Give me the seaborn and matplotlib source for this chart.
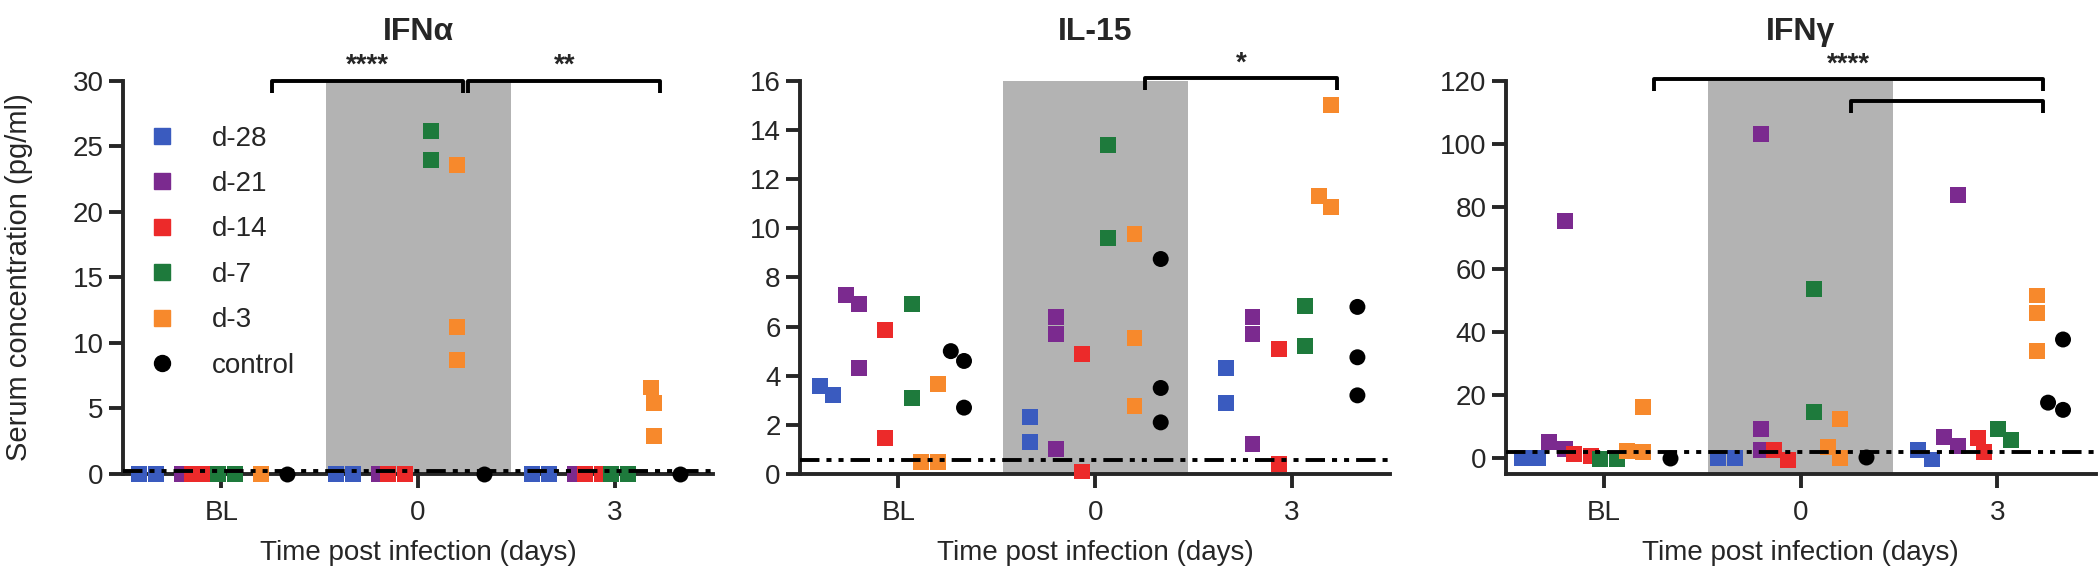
import warnings
import numpy as np
import pandas as pd
import seaborn as sns
import matplotlib.pyplot as plt
from matplotlib.lines import Line2D

warnings.filterwarnings('ignore')

groups = ['d-28', 'd-21', 'd-14', 'd-7', 'd-3', 'control']
times = ['BL', '0', '3']
colors = ['#3a5bbf', '#7b2a8f', '#ec2a2a', '#1e7a3c', '#f7892c', '#000000']

# values per group, listed as [BL, day 0, day 3]
ifna_d28 = [[0, 0], [0, 0], [0, 0]]
ifna_d21 = [[0], [0], [0]]
ifna_d14 = [[0, 0], [0, 0], [0, 0]]
ifna_d7 = [[0, 0], [26.2, 24.0], [0, 0]]
ifna_d3 = [[0], [23.6, 11.2, 8.7], [6.6, 5.4, 2.9]]
ifna_ctrl = [[0], [0], [0]]

il15_d28 = [[3.2, 3.6], [1.3, 2.3], [4.3, 2.9]]
il15_d21 = [[7.3, 6.9, 4.3], [6.4, 5.7, 1.0], [6.4, 5.7, 1.2]]
il15_d14 = [[5.85, 1.45], [4.9, 0.1], [5.1, 0.4]]
il15_d7 = [[6.9, 3.1], [13.4, 9.6], [6.85, 5.2]]
il15_d3 = [[3.65, 0.5, 0.5], [9.75, 5.55, 2.75], [15.0, 10.85, 11.3]]
il15_ctrl = [[5.0, 4.6, 2.7], [8.75, 3.5, 2.1], [6.8, 4.75, 3.2]]

ifng_d28 = [[0, 0], [0, 0], [-0.5, 2.5]]
ifng_d21 = [[75.3, 2.9, 5.0], [103.1, 9.3, 2.5], [83.8, 3.9, 6.8]]
ifng_d14 = [[0.5, 1.2], [-0.6, 2.5], [1.75, 6.4]]
ifng_d7 = [[-0.3, -0.3], [53.7, 14.6], [5.6, 9.1]]
ifng_d3 = [[16.1, 1.75, 2.1], [12.3, 0, 3.6], [51.7, 46.1, 33.9]]
ifng_ctrl = [[0], [0.3], [37.7, 15.3, 17.6]]

titles = ['IFNα', 'IL-15', 'IFNγ']
lods = [0.2, 0.55, 1.75]
ylims = [(0, 30), (0, 16), (-5.1, 120)]
ytick_steps = [5, 2, 20]
# (from, to, bracket level, stars)
brackets = [
    [('BL', '0', 30, '****'), ('0', '3', 30, '**')],
    [('0', '3', 16.1, '*')],
    [('BL', '3', 120.5, '****'), ('0', '3', 113.5, '')],
]


def to_frame(series):
    rows = []
    for g, vals in zip(groups, series):
        for t, vs in zip(times, vals):
            for v in vs:
                rows.append((g, t, v))
    return pd.DataFrame(rows, columns=['group', 'time', 'value'])


panels = [
    to_frame([ifna_d28, ifna_d21, ifna_d14, ifna_d7, ifna_d3, ifna_ctrl]),
    to_frame([il15_d28, il15_d21, il15_d14, il15_d7, il15_d3, il15_ctrl]),
    to_frame([ifng_d28, ifng_d21, ifng_d14, ifng_d7, ifng_d3, ifng_ctrl]),
]

sns.set_style('ticks')
plt.rcParams['font.family'] = ['Liberation Sans', 'DejaVu Sans']
pal = dict(zip(groups, colors))

fig = plt.figure(figsize=(21, 5.78), dpi=100)
lefts = [0.0586, 0.381, 0.717]

for i, df in enumerate(panels):
    ax = fig.add_axes([lefts[i], 0.18, 0.281, 0.68])
    ax.axvspan(0.53, 1.47, color='#b3b3b3', lw=0, zorder=0)

    sq = df[df['group'] != 'control']
    ct = df[df['group'] == 'control']
    sns.swarmplot(data=sq, x='time', y='value', hue='group', order=times,
                  hue_order=groups, palette=pal, dodge=True, marker='s',
                  size=11.5, linewidth=0, legend=False, ax=ax, zorder=3)
    sns.swarmplot(data=ct, x='time', y='value', hue='group', order=times,
                  hue_order=groups, palette=pal, dodge=True, marker='o',
                  size=11.5, linewidth=0, legend=False, ax=ax, zorder=3)
    for c in ax.collections:
        c.set_clip_on(False)

    ax.axhline(lods[i], color='black', lw=2.8,
               linestyle=(0, (5, 1.8, 1.3, 1.8, 1.3, 1.8)), zorder=4)

    lo, hi = ylims[i]
    ax.set_ylim(lo, hi)
    ax.set_xlim(-0.5, 2.5)
    ax.set_yticks(np.arange(0, hi + 0.01, ytick_steps[i]))
    ax.set_xticks(range(len(times)))
    ax.set_xticklabels(times)
    ax.set_xlabel('Time post infection (days)', fontsize=20, labelpad=10)
    ax.set_ylabel('')
    ax.tick_params(labelsize=20, length=10, width=2.8)
    ax.tick_params(axis='x', pad=9)
    ax.tick_params(axis='y', pad=4)
    for s in ['left', 'bottom']:
        ax.spines[s].set_linewidth(2.8)
    sns.despine(ax=ax)

    ax.text(0.5, 1.125, titles[i], transform=ax.transAxes, ha='center',
            va='center', fontsize=23, fontweight='bold')

    tip = 0.03 * (hi - lo)
    for t1, t2, lev, stars in brackets[i]:
        x1 = times.index(t1) + 0.255
        x2 = times.index(t2) + 0.23
        ax.plot([x1, x1, x2, x2], [lev - tip, lev, lev, lev - tip],
                color='black', lw=2.8, clip_on=False, zorder=5,
                solid_capstyle='butt')
        if stars:
            ax.text((x1 + x2) / 2, lev + 0.005 * (hi - lo), stars,
                    ha='center', va='bottom', fontsize=20, fontweight='bold')

    if i == 0:
        handles = [Line2D([], [], marker='o' if g == 'control' else 's',
                          color=pal[g], linestyle='', markersize=11.5)
                   for g in groups]
        ax.legend(handles, groups, loc='upper left', bbox_to_anchor=(0.0, 0.95),
                  frameon=False, fontsize=20, labelspacing=0.7,
                  handlelength=1.0, handletextpad=1.3)

fig.text(0.009, 0.52, 'Serum concentration (pg/ml)', rotation=90,
         ha='center', va='center', fontsize=21)

plt.savefig('out.png', dpi=100)
